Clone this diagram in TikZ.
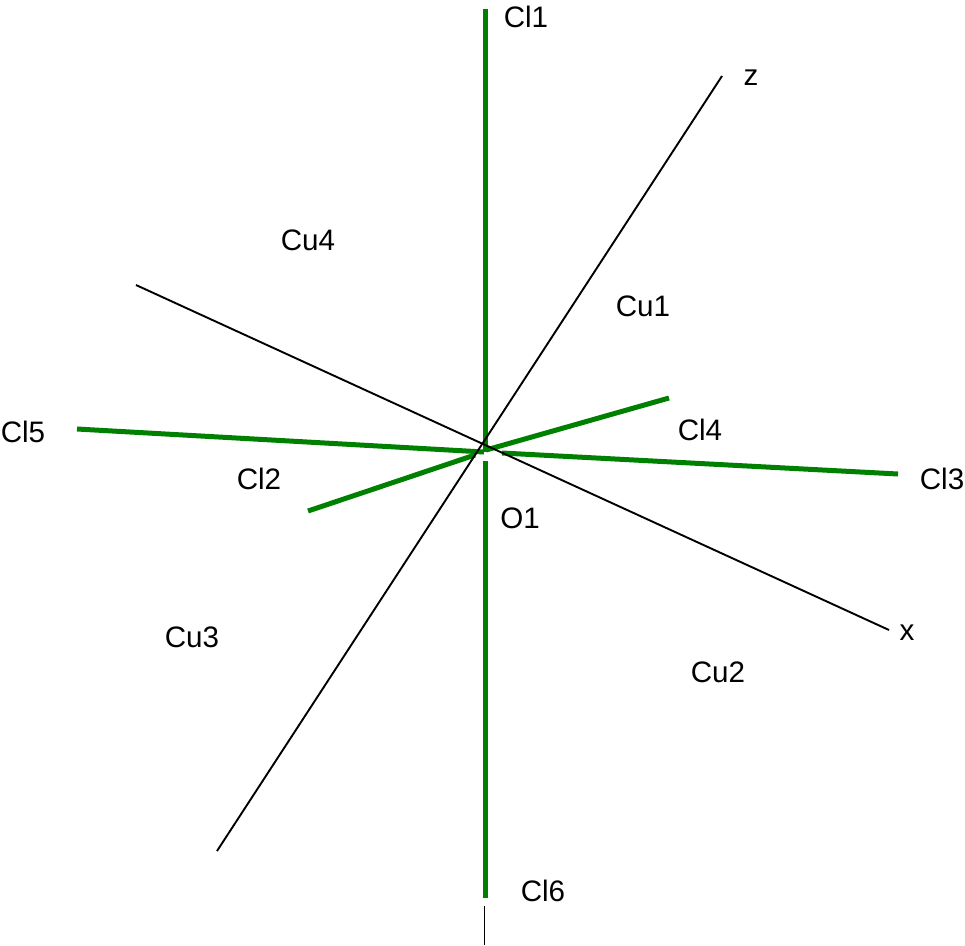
\documentclass[tikz,border=0pt]{standalone}
\usepackage{fontspec}
\setmainfont{Liberation Sans}
\tikzset{lbl/.style={inner sep=0pt,font=\fontsize{29.6}{34}\selectfont}}
\tikzset{axis/.style={line width=1.9pt,black}}
\tikzset{bond/.style={line width=5pt,green!50!black}}
\begin{document}
\begin{tikzpicture}[x=1pt,y=-1pt]
\useasboundingbox (0,0) rectangle (965,945);
\coordinate (zA) at (722,76);
\coordinate (zB) at (217,851);
\coordinate (xA) at (136,285);
\coordinate (xB) at (889,630);
\coordinate (yA) at (484.5,906);
\coordinate (yB) at (484.5,945);

\coordinate (c1) at (485,9);
\coordinate (c1e) at (485,452);
\coordinate (c6) at (485,898);
\coordinate (c6e) at (485,461);
\coordinate (c5) at (77,429);
\coordinate (c5e) at (484,452);
\coordinate (c3) at (898,474);
\coordinate (c3e) at (502,453);
\coordinate (c2) at (308,511);
\coordinate (c2e) at (475,455);
\coordinate (c4) at (669,398);
\coordinate (c4e) at (486,450);

\draw[bond] (c1) -- (c1e);
\draw[bond] (c6) -- (c6e);
\draw[bond] (c5) -- (c5e);
\draw[bond] (c3) -- (c3e);
\draw[bond] (c2) -- (c2e);
\draw[bond] (c4) -- (c4e);

\draw[axis] (zA) -- (zB);
\draw[axis] (xA) -- (xB);
\draw[axis] (yA) -- (yB);

\node[lbl] (Cl1) at (526,17) {Cl1};
\node[lbl] (z) at (751,78) {z};
\node[lbl] (Cu4) at (308,240) {Cu4};
\node[lbl] (Cu1) at (643,306) {Cu1};
\node[lbl] (Cl4) at (700,430) {Cl4};
\node[lbl] (Cl5) at (23,432) {Cl5};
\node[lbl] (Cl2) at (259,479) {Cl2};
\node[lbl] (Cl3) at (942,479) {Cl3};
\node[lbl] (O1) at (520,518) {O1};
\node[lbl] (x) at (907,633) {x};
\node[lbl] (Cu3) at (192,637) {Cu3};
\node[lbl] (Cu2) at (718,672) {Cu2};
\node[lbl] (Cl6) at (543,891) {Cl6};
\end{tikzpicture}
\end{document}
